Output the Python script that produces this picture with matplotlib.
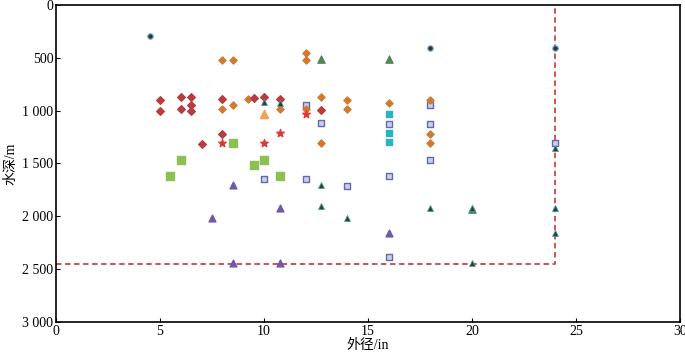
import matplotlib.pyplot as plt
from matplotlib.ticker import FuncFormatter

plt.rcParams['font.family'] = ['Liberation Serif', 'Noto Sans CJK SC']

# data (x: outer diameter in, y: water depth m)
circle_x = [4.5, 18, 24]
circle_y = [290, 410, 410]

orange_dia_x = [8, 8.5, 8, 8.5, 9.25, 10.75, 12, 12, 12, 12.75, 12.75, 14, 14, 16, 18, 18, 18]
orange_dia_y = [520, 520, 980, 945, 885, 985, 455, 520, 980, 875, 1310, 900, 985, 925, 895, 1225, 1310]

red_dia_x = [5, 5, 6, 6, 6.5, 6.5, 6.5, 8, 8, 7, 9.5, 10, 10.75, 12.75]
red_dia_y = [895, 1000, 875, 985, 875, 945, 1000, 893, 1225, 1320, 883, 870, 887, 995]

star_x = [8, 10, 10.75, 12]
star_y = [1305, 1310, 1210, 1035]

otri_x = [10]
otri_y = [1035]

gsq_x = [5.5, 6, 8.5, 9.5, 10, 10.75]
gsq_y = [1615, 1465, 1310, 1510, 1465, 1615]

lsq_x = [10, 12, 12, 12.75, 14, 16, 16, 16, 18, 18, 18, 24]
lsq_y = [1650, 945, 1650, 1120, 1710, 1125, 1615, 2385, 950, 1125, 1465, 1310]

csq_x = [16, 16, 16]
csq_y = [1035, 1215, 1300]

ptri_x = [7.5, 8.5, 8.5, 10.75, 10.75, 16]
ptri_y = [2015, 1700, 2445, 1925, 2445, 2160]

gtri_x = [12.75, 16, 20]
gtri_y = [515, 510, 1930]

ktri_x = [10, 10.75, 12.75, 12.75, 14, 18, 20, 20, 24, 24, 24]
ktri_y = [915, 925, 1700, 1905, 2015, 1925, 1925, 2445, 1925, 2160, 1350]

limit_x = [0, 24, 24]
limit_y = [2450, 2450, 0]

fig = plt.figure(figsize=(6.85, 3.54), dpi=100)
ax = fig.add_axes([0.0818, 0.0904, 0.9109, 0.8955])

ax.plot(limit_x, limit_y, color='#c84848', ls=(0, (3, 2)), lw=1.3, zorder=1)

ax.scatter(gsq_x, gsq_y, marker='s', s=28, color='#8cc152', zorder=3)
ax.scatter(csq_x, csq_y, marker='s', s=20, color='#26b5c0', zorder=3)
ax.scatter(lsq_x, lsq_y, marker='s', s=18, color='#c8d0f0', edgecolor='#6868a8', lw=1, zorder=3)
ax.scatter(orange_dia_x, orange_dia_y, marker='D', s=13, color='#d07a30', zorder=4)
ax.scatter(red_dia_x, red_dia_y, marker='D', s=15, color='#b83c40', zorder=4)
ax.scatter(star_x, star_y, marker='*', s=32, color='#e03838', zorder=4)
ax.scatter(otri_x, otri_y, marker='^', s=34, color='#f5a050', zorder=4)
ax.scatter(ptri_x, ptri_y, marker='^', s=24, color='#7058a8', zorder=4)
ax.scatter(gtri_x, gtri_y, marker='^', s=30, color='#5a8a3a', edgecolor='#3a7a6a', lw=0.6, zorder=4)
ax.scatter(ktri_x, ktri_y, marker='^', s=18, color='#3a3a2a', edgecolor='#3aa0a0', lw=0.6, zorder=5)
ax.scatter(circle_x, circle_y, marker='o', s=15, color='#333333', edgecolor='#60a8c8', lw=0.8, zorder=5)

ax.set_xlim(0, 30)
ax.set_ylim(3000, 0)
ax.set_xticks(range(0, 31, 5))
ax.set_yticks(range(0, 3001, 500))
ax.yaxis.set_major_formatter(FuncFormatter(lambda v, p: f"{int(v):,}".replace(",", " ")))
ax.tick_params(direction='in', length=3, labelsize=10, pad=2)
for s in ax.spines.values():
    s.set_linewidth(1.2)

ax.set_xlabel('外径/in', fontsize=10, labelpad=1)
ax.set_ylabel('水深/m', fontsize=10, labelpad=3)

fig.savefig('out.png', dpi=100)
